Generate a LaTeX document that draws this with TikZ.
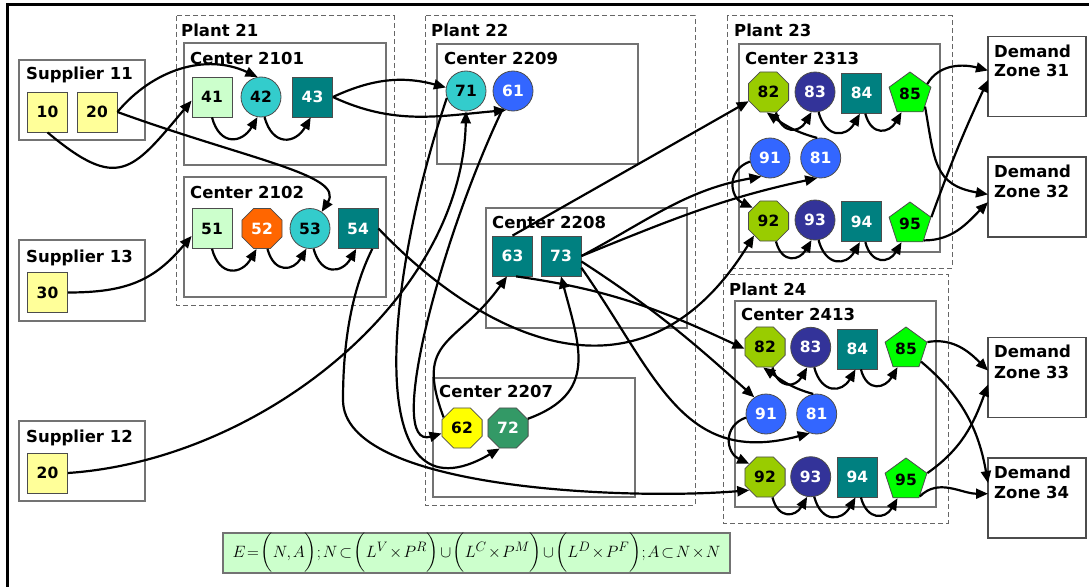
\documentclass[tikz,border=0pt]{standalone}
\usepackage{amsmath}
\usepackage{graphicx}
\usepackage[no-math]{fontspec}
\setmainfont{DejaVu Sans}
\usetikzlibrary{shapes.geometric,arrows.meta}
\definecolor{cLY}{HTML}{FFFF99}
\definecolor{cLG}{HTML}{CCFFCC}
\definecolor{cTQ}{HTML}{33CCCC}
\definecolor{cTE}{HTML}{008080}
\definecolor{cOR}{HTML}{FF6600}
\definecolor{cBL}{HTML}{3366FF}
\definecolor{cYE}{HTML}{FFFF00}
\definecolor{cSG}{HTML}{339966}
\definecolor{cYG}{HTML}{99CC00}
\definecolor{cDB}{HTML}{333399}
\definecolor{cGR}{HTML}{00FF00}
\newcommand\myLbl{\fontsize{16.5}{19}\selectfont\bfseries}
\newcommand\myNum{\fontsize{15.5}{18}\selectfont\bfseries}
\begin{document}
\begin{tikzpicture}[x=1pt,y=1pt,
  nb/.style={draw=black!70, line width=0.8pt, inner sep=0pt, font=\myNum},
  sq/.style={nb, rectangle, minimum width=40pt, minimum height=40pt},
  ci/.style={nb, circle, minimum size=40pt},
  oc/.style={nb, regular polygon, regular polygon sides=8, minimum size=43.5pt},
  pe/.style={nb, regular polygon, regular polygon sides=5, minimum size=44pt},
  lab/.style={anchor=base west, inner sep=0pt, font=\myLbl},
  plantbox/.style={draw=black!60, line width=1pt, dash pattern=on 5pt off 3pt},
  cbox/.style={draw=black!55, line width=1.3pt},
  zone/.style={draw=black!70, line width=1.3pt, minimum width=98pt, minimum height=80pt, inner sep=0pt, outer sep=0pt},
  arr/.style={-{Triangle[length=12pt,width=10pt]}, line width=2.2pt},
  chainarr/.style={arr, out=-75, in=-120, looseness=1.7},
]
\useasboundingbox (0,0) rectangle (1089,-586);
% outer frame
\draw[line width=3pt] (7,-590) -- (7,-4.5) -- (1095,-4.5);

% containers
\draw[cbox] (19,-60) rectangle (145,-140);
\draw[cbox] (19,-240) rectangle (145,-321);
\draw[cbox] (19,-421) rectangle (145,-501);
\draw[plantbox] (176,-16) rectangle (394,-305);
\draw[cbox] (184,-43) rectangle (386,-165);
\draw[cbox] (184,-177) rectangle (386,-297);
\draw[plantbox] (425,-16) rectangle (695,-505);
\draw[cbox] (437,-44) rectangle (638,-164);
\draw[cbox] (486,-208) rectangle (687,-328);
\draw[cbox] (433,-378) rectangle (635,-497);
\draw[plantbox] (727,-16) rectangle (952,-268);
\draw[cbox] (739,-44) rectangle (940,-252);
\draw[plantbox] (723,-274) rectangle (948,-523);
\draw[cbox] (735,-301) rectangle (936,-507);

\node[zone] (dz31) at (1037,-76.5) {};
\node[zone] (dz32) at (1037,-197) {};
\node[zone] (dz33) at (1037,-377.5) {};
\node[zone] (dz34) at (1037,-498) {};

% labels
\node[lab] (ls11) at (26,-80) {Supplier 11};
\node[lab] (ls13) at (26,-262) {Supplier 13};
\node[lab] (ls12) at (26,-442) {Supplier 12};
\node[lab] (lp21) at (181,-37) {Plant 21};
\node[lab] (lc2101) at (190,-65) {Center 2101};
\node[lab] (lc2102) at (190,-198) {Center 2102};
\node[lab] (lp22) at (431,-37) {Plant 22};
\node[lab] (lc2209) at (444,-65) {Center 2209};
\node[lab] (lc2208) at (492,-228) {Center 2208};
\node[lab] (lc2207) at (439,-397) {Center 2207};
\node[lab] (lp23) at (734,-37) {Plant 23};
\node[lab] (lc2313) at (745,-65) {Center 2313};
\node[lab] (lp24) at (729,-295) {Plant 24};
\node[lab] (lc2413) at (741,-320) {Center 2413};
\node[lab] (ld31a) at (994,-58) {Demand};
\node[lab] (ld31b) at (994,-77) {Zone 31};
\node[lab] (ld32a) at (994,-177) {Demand};
\node[lab] (ld32b) at (994,-197) {Zone 32};
\node[lab] (ld33a) at (994,-357) {Demand};
\node[lab] (ld33b) at (994,-378) {Zone 33};
\node[lab] (ld34a) at (994,-478) {Demand};
\node[lab] (ld34b) at (994,-498) {Zone 34};

% supplier nodes
\node[sq, fill=cLY] (s10) at (47.5,-112) {10};
\node[sq, fill=cLY] (s20) at (97,-112) {20};
\node[sq, fill=cLY] (s30) at (47.5,-292.5) {30};
\node[sq, fill=cLY] (s20b) at (47.5,-473) {20};

% plant 21
\node[sq, fill=cLG] (n41) at (212,-97) {41};
\node[ci, fill=cTQ] (n42) at (261,-97) {42};
\node[sq, fill=cTE, text=white] (n43) at (312.5,-97) {43};
\node[sq, fill=cLG] (n51) at (212,-228.5) {51};
\node[oc, fill=cOR, text=white] (n52) at (262,-228.5) {52};
\node[ci, fill=cTQ] (n53) at (310,-228.5) {53};
\node[sq, fill=cTE, text=white] (n54) at (358,-228.5) {54};

% plant 22
\node[ci, fill=cTQ] (n71) at (466,-91) {71};
\node[ci, fill=cBL, text=white] (n61) at (513,-91) {61};
\node[sq, fill=cTE, text=white] (n63) at (512.5,-256) {63};
\node[sq, fill=cTE, text=white] (n73) at (561,-256) {73};
\node[oc, fill=cYE] (n62) at (462,-428) {62};
\node[oc, fill=cSG, text=white] (n72) at (508,-428) {72};

% plant 23
\node[oc, fill=cYG] (n82a) at (768.5,-92) {82};
\node[ci, fill=cDB, text=white] (n83a) at (815,-92) {83};
\node[sq, fill=cTE, text=white] (n84a) at (861.7,-93.3) {84};
\node[pe, fill=cGR] (n85a) at (910,-94) {85};
\node[ci, fill=cBL, text=white] (n91a) at (770,-158) {91};
\node[ci, fill=cBL, text=white] (n81a) at (820.7,-158) {81};
\node[oc, fill=cYG] (n92a) at (768.5,-221) {92};
\node[ci, fill=cDB, text=white] (n93a) at (815,-220) {93};
\node[sq, fill=cTE, text=white] (n94a) at (861.7,-221.7) {94};
\node[pe, fill=cGR] (n95a) at (910,-224) {95};

% plant 24
\node[oc, fill=cYG] (n82b) at (765,-347) {82};
\node[ci, fill=cDB, text=white] (n83b) at (810.7,-347.3) {83};
\node[sq, fill=cTE, text=white] (n84b) at (857.3,-349) {84};
\node[pe, fill=cGR] (n85b) at (906,-349) {85};
\node[ci, fill=cBL, text=white] (n91b) at (766,-414) {91};
\node[ci, fill=cBL, text=white] (n81b) at (816.7,-414) {81};
\node[oc, fill=cYG] (n92b) at (765,-477) {92};
\node[ci, fill=cDB, text=white] (n93b) at (810.7,-476.7) {93};
\node[sq, fill=cTE, text=white] (n94b) at (857.3,-477) {94};
\node[pe, fill=cGR] (n95b) at (906,-480) {95};

% formula
\node[fill=cLG, draw=black!55, line width=1.3pt, minimum width=507pt, minimum height=40pt, inner sep=0pt, outer sep=0pt] (formula) at (476.5,-553)
  {\resizebox{488pt}{!}{\fontsize{19}{22}\selectfont\thickmuskip=2mu\medmuskip=1.5mu\thinmuskip=2mu
   $E=\biggl(N,A\biggr);N\subset\biggl(L^{V}\times P^{R}\biggr)\cup\biggl(L^{C}\times P^{M}\biggr)\cup\biggl(L^{D}\times P^{F}\biggr);A\subset N\times N$}};

% ---------- connectors ----------
\draw[arr] (s10.south) to[out=-40,in=-130,looseness=1.6] (n41.190);
\draw[arr] (s20.east) to[out=50,in=155] (n42.100);
\draw[arr] (s20.east) .. controls (250,-160) and (345,-175) .. (n53.55);
\draw[arr] (s30.east) to[out=0,in=-130,looseness=1.1] (n51.200);

\draw[chainarr] (n41.south) to (n42.-100);
\draw[chainarr] (n42.-80) to (n43.-95);
\draw[chainarr] (n51.south) to (n52.-105);
\draw[chainarr] (n52.-75) to (n53.-100);
\draw[chainarr] (n53.-80) to (n54.-95);

\draw[arr] (n43.east) to[out=25,in=165] (n71.170);
\draw[arr] (n43.east) to[out=-25,in=185] (n61.-110);
\draw[arr] (s20b.east) .. controls (260,-460) and (462,-300) .. (n71.south);
\draw[arr] (n71.200) .. controls (385,-280) and (360,-530) .. (n72.-112);
\draw[arr] (n61.-120) .. controls (440,-240) and (385,-450) .. (n62.195);
\draw[arr] (n62.150) .. controls +(-30,80) and +(-50,-70) .. (n63.-105);
\draw[arr] (n72.25) to[out=20,in=-75,looseness=1.3] (n73.south);

\draw[arr] (n54.east) .. controls (480,-335) and (640,-420) .. (n92a.-135);
\draw[arr] (n54.-55) .. controls +(-20,-40) and +(0,60) .. (343,-400) .. controls +(0,-90) and +(-120,-10) .. (n92b.-140);

\draw[arr] (n63.north) -- (n82a.205);
\draw[arr] (n73.east) to[out=28,in=190] (n91a.-115);
\draw[arr] (n73.east) to[out=22,in=192] (n81a.-100);
\draw[arr] (n73.-15) to[out=-33,in=138] (n91b.125);
\draw[arr] (n73.-30) to[out=-55,in=195,looseness=1.2] (n81b.-110);
\draw[arr] (n63.-80) to[out=-8,in=155] (n82b.185);

% plant 23 internal
\draw[chainarr] (n82a.-70) to (n83a.-100);
\draw[chainarr] (n83a.-80) to (n84a.-95);
\draw[chainarr] (n84a.-80) to (n85a.-115);
\draw[chainarr] (n92a.-70) to (n93a.-100);
\draw[chainarr] (n93a.-80) to (n94a.-95);
\draw[chainarr] (n94a.-80) to (n95a.-115);
\draw[arr] (n81a.100) to[out=165,in=-35] (n82a.-95);
\draw[arr] (n91a.190) to[out=200,in=155,looseness=1.4] (n92a.140);

% plant 24 internal
\draw[chainarr] (n82b.-70) to (n83b.-100);
\draw[chainarr] (n83b.-80) to (n84b.-95);
\draw[chainarr] (n84b.-80) to (n85b.-115);
\draw[chainarr] (n92b.-70) to (n93b.-100);
\draw[chainarr] (n93b.-80) to (n94b.-95);
\draw[chainarr] (n94b.-80) to (n95b.-115);
\draw[arr] (n81b.100) to[out=165,in=-35] (n82b.-95);
\draw[arr] (n91b.190) to[out=200,in=155,looseness=1.4] (n92b.140);

% to demand zones
\draw[arr] (n85a.30) to[out=60,in=165] (dz31.173);
\draw[arr] (n85a.-40) to[out=-80,in=170,looseness=1.3] (dz32.177);
\draw[arr] (n95a.18) to[out=70,in=-115] (dz31.184);
\draw[arr] (n95a.-50) to[out=0,in=-135] (dz32.186);
\draw[arr] (n85b.18) to[out=10,in=135] (dz33.172);
\draw[arr] (n85b.-40) to[out=-40,in=100] (dz34.163);
\draw[arr] (n95b.18) to[out=35,in=-110] (dz33.188);
\draw[arr] (n95b.-50) to[out=45,in=180] (dz34.175);
\end{tikzpicture}
\end{document}
